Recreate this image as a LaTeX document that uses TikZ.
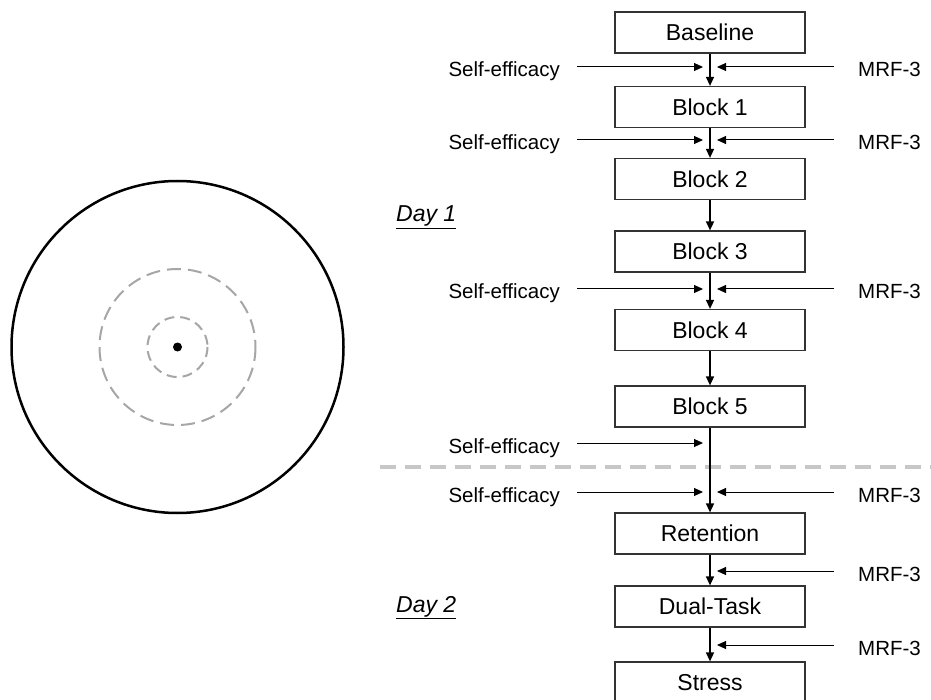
\documentclass[tikz,border=0pt]{standalone}
\usepackage{fontspec}
\setmainfont{Liberation Sans}
\usetikzlibrary{arrows.meta}
\begin{document}
\begin{tikzpicture}[x=1pt,y=-1pt,
  box/.style={draw=black!80, line width=1.2pt, minimum width=190pt, minimum height=41pt, inner sep=0pt, font=\fontsize{23}{27}\selectfont},
  lab/.style={font=\fontsize{20.5}{24}\selectfont, inner sep=0pt},
  day/.style={font=\fontsize{23}{27}\selectfont\itshape, inner sep=0pt},
  flow/.style={line width=1.4pt, -{Triangle[length=9pt,width=8pt]}},
  side/.style={line width=1pt, -{Triangle[length=9pt,width=8pt]}},
  divider/.style={draw=black!22, line width=3.5pt, dash pattern=on 16pt off 9pt},
  ring/.style={draw=black!35, line width=2pt},
]
\useasboundingbox (0,0) rectangle (931,700);

% target
\draw[line width=2.5pt] (177.5,347) circle[radius=166];
\draw[ring, dash pattern=on 14pt off 7pt] (177.5,347) circle[radius=78];
\draw[ring, dash pattern=on 10pt off 6pt] (177.5,347) circle[radius=30];
\fill (177.5,347) circle[radius=4.5];

% divider
\coordinate (dl) at (380,467);
\coordinate (dr) at (931,467);
\draw[divider] (dl) -- (dr);

% boxes
\node[box] (base) at (710,32.5) {Baseline};
\node[box] (b1) at (710,107) {Block 1};
\node[box] (b2) at (710,179) {Block 2};
\node[box] (b3) at (710,251.5) {Block 3};
\node[box] (b4) at (710,330) {Block 4};
\node[box] (b5) at (710,406.5) {Block 5};
\node[box] (ret) at (710,533.5) {Retention};
\node[box] (dual) at (710,606.5) {Dual-Task};
\node[box] (stress) at (710,682.5) {Stress};

\draw[flow] (base) -- (b1);
\draw[flow] (b1) -- (b2);
\draw[flow] (b2) -- (b3);
\draw[flow] (b3) -- (b4);
\draw[flow] (b4) -- (b5);
\draw[flow] (b5) -- (ret);
\draw[flow] (ret) -- (dual);
\draw[flow] (dual) -- (stress);

% day labels
\node[day, anchor=base west] (d1) at (396,222) {\underline{Day 1}};
\node[day, anchor=base west] (d2) at (396,612) {\underline{Day 2}};

% side labels
\foreach \n/\y in {1/67, 2/140, 3/289, 4/443, 5/492} {
  \node[lab, anchor=base east] (se\n) at (560,\y+10) {Self-efficacy};
  \coordinate (se\n e) at (703,\y);
  \draw[side, shorten <=17pt] (se\n.east |- se\n e) -- (se\n e);
}
\foreach \n/\y in {1/67, 2/140, 3/289, 5/492, 6/571, 7/645} {
  \node[lab, anchor=base west] (m\n) at (858,\y+10) {MRF-3};
  \coordinate (m\n e) at (717,\y);
  \draw[side, shorten <=24pt] (m\n.west |- m\n e) -- (m\n e);
}
\end{tikzpicture}
\end{document}
